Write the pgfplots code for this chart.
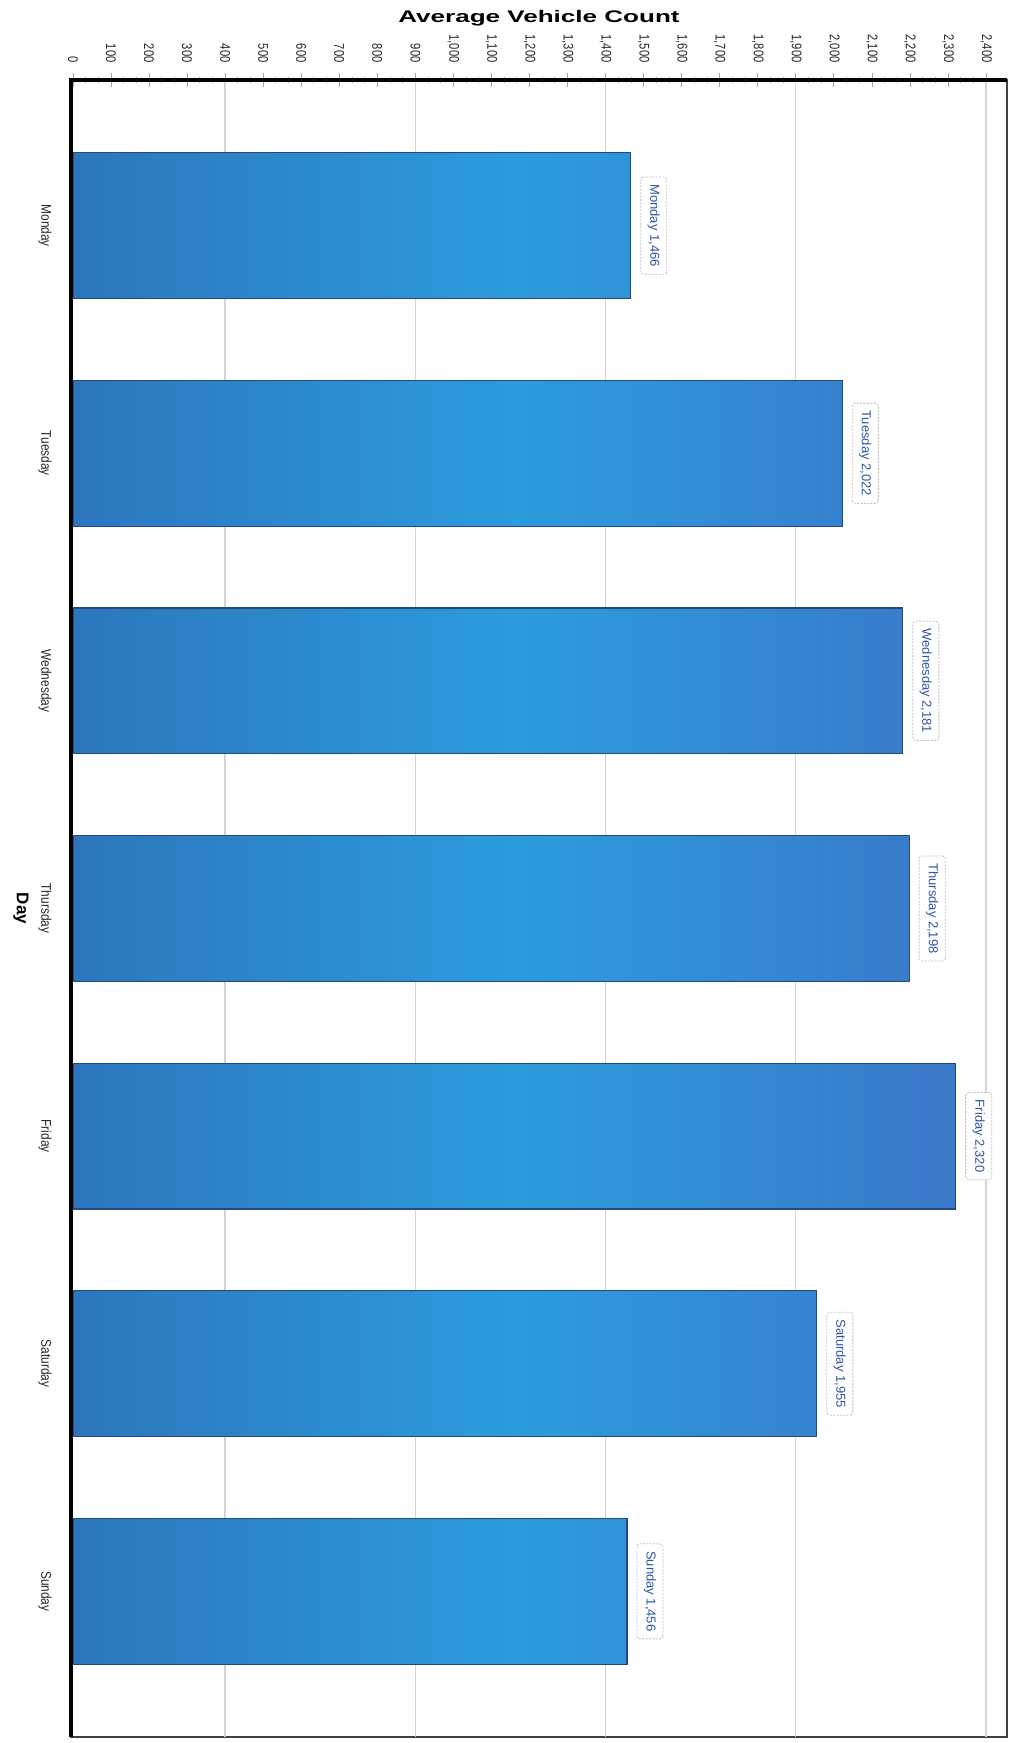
\documentclass[border=0pt]{standalone}
\usepackage{fontspec}
\setmainfont{Liberation Sans}
\usepackage{graphicx}
\usepackage{pgfplots}
\pgfplotsset{compat=1.18}

\definecolor{barL}{HTML}{2C76BC}
\definecolor{barM}{HTML}{2B9CDC}
\definecolor{barR}{HTML}{3A78C8}
\definecolor{barEdge}{HTML}{24487F}
\definecolor{lblBlue}{HTML}{2F55A8}
\definecolor{gridc}{HTML}{D4D4D4}

% narrow the day names a little, as in the scan
\newcommand{\nd}[1]{\scalebox{0.85}[1]{#1}}

\begin{document}
\begin{tikzpicture}
\useasboundingbox (-35.5pt,-3pt) rectangle (471pt,868.5pt);
\begin{axis}[
  at={(0,0)}, anchor=south west,
  scale only axis, width=468pt, height=828.5pt,
  xbar, bar width=0.64,
  xmin=-5, xmax=2455,
  ymin=-0.64, ymax=6.64, y dir=reverse,
  ytick={0,...,6},
  yticklabels={\nd{Monday},\nd{Tuesday},\nd{Wednesday},\nd{Thursday},\nd{Friday},\nd{Saturday},\nd{Sunday}},
  xtick={0,100,...,2400},
  minor x tick num=2,
  xtick pos=right, xticklabel pos=right,
  ytick style={draw=none},
  tick align=center,
  major tick length=7pt, minor tick length=3pt,
  x tick style={gray!70, line width=0.4pt},
  extra x ticks={400,900,1400,1900,2400},
  extra x tick labels={},
  extra x tick style={grid=major, major tick length=0pt},
  major grid style={gridc, line width=0.6pt},
  axis line style={draw=black!75, line width=0.8pt},
  /pgf/number format/assume math mode=true,
  xticklabel={\scalebox{0.8}[1]{\pgfmathprintnumber{\tick}}},
  x tick label style={font=\fontsize{7}{8}\selectfont, text=black!85, rotate=-90, anchor=east, inner xsep=5pt},
  y tick label style={font=\fontsize{7}{8}\selectfont, text=black!85, rotate=-90, anchor=north, inner ysep=6pt},
  xlabel={\scalebox{1.55}[1]{\bfseries Average Vehicle Count}},
  xlabel style={at={(axis description cs:0.5,1)}, anchor=center, yshift=31pt, font=\fontsize{8.4}{10}\selectfont},
  ylabel={Day},
  every axis y label/.style={at={(axis description cs:0,0.5)}, xshift=-25pt, rotate=-90, anchor=center, font=\bfseries\fontsize{8.5}{10}\selectfont},
  nodes near coords,
  point meta=explicit symbolic,
  every node near coord/.append style={font=\fontsize{6.5}{7}\selectfont, text=lblBlue,
    rotate=-90, anchor=south, fill=white, draw=gray!50, line width=0.4pt,
    dash pattern=on 1pt off 0.7pt, rounded corners=1.5pt,
    inner xsep=3.7pt, inner ysep=3.5pt, outer ysep=5pt},
]
\addplot[draw=barEdge, line width=0.6pt, left color=barL, right color=barR, middle color=barM]
  coordinates {
    (1466,0) [{Monday 1,466}]
    (2022,1) [{Tuesday 2,022}]
    (2181,2) [{Wednesday 2,181}]
    (2198,3) [{Thursday 2,198}]
    (2320,4) [{Friday 2,320}]
    (1955,5) [{Saturday 1,955}]
    (1456,6) [{Sunday 1,456}]
  };
\end{axis}
\draw[line width=1.8pt, black] (current axis.south west) -- (current axis.north west) -- (current axis.north east);
\end{tikzpicture}
\end{document}
